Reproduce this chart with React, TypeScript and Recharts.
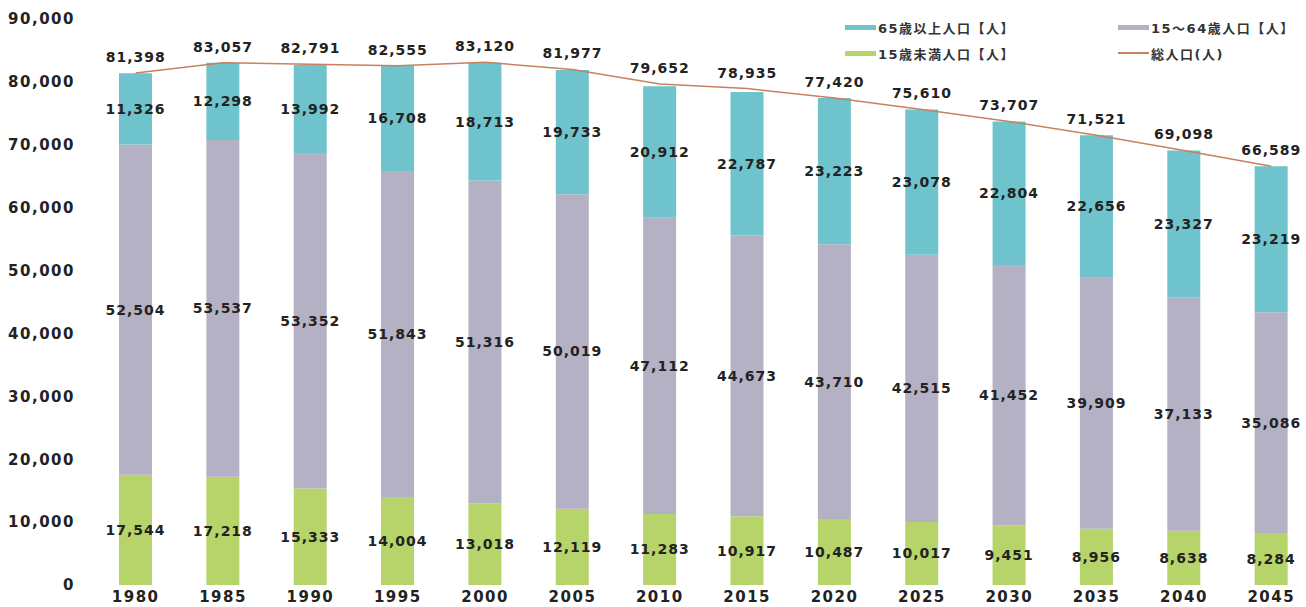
import { ComposedChart, Bar, Line, XAxis, YAxis, LabelList } from "recharts";

const years = ["1980", "1985", "1990", "1995", "2000", "2005", "2010", "2015", "2020", "2025", "2030", "2035", "2040", "2045"];
const under15 = [17544, 17218, 15333, 14004, 13018, 12119, 11283, 10917, 10487, 10017, 9451, 8956, 8638, 8284];
const working = [52504, 53537, 53352, 51843, 51316, 50019, 47112, 44673, 43710, 42515, 41452, 39909, 37133, 35086];
const elderly = [11326, 12298, 13992, 16708, 18713, 19733, 20912, 22787, 23223, 23078, 22804, 22656, 23327, 23219];
const total = [81398, 83057, 82791, 82555, 83120, 81977, 79652, 78935, 77420, 75610, 73707, 71521, 69098, 66589];
const yTicks = [0, 10000, 20000, 30000, 40000, 50000, 60000, 70000, 80000, 90000];

const data = years.map((year, i) => ({
    year,
    under15: under15[i],
    working: working[i],
    elderly: elderly[i],
    total: total[i],
}));

const GREEN = "#b6d46a";
const GRAY = "#b5b1c4";
const CYAN = "#6fc3cd";
const LINE = "#c8805f";

const fmt = (v: number) => v.toLocaleString("en-US");
const numFont = "'DejaVu Sans', 'Noto Sans CJK JP', sans-serif";
const labelStyle = { fontFamily: numFont, fontSize: 14, fontWeight: 700, fill: "#222", letterSpacing: 1 };
const axisTick = { fontFamily: numFont, fontSize: 15, fontWeight: 700, fill: "#222", letterSpacing: 1.5 };

// legend entries, positions in page pixels
const legendItems = [
    { text: "65歳以上人口【人】", color: CYAN, type: "bar", left: 845, top: 27 },
    { text: "15～64歳人口【人】", color: GRAY, type: "bar", left: 1118, top: 27 },
    { text: "15歳未満人口【人】", color: GREEN, type: "bar", left: 845, top: 53 },
    { text: "総人口(人)", color: LINE, type: "line", left: 1118, top: 53 },
];

const LegendBox = () => (
    <>
        {legendItems.map((it) => (
            <div
                key={it.text}
                style={{
                    position: "absolute",
                    left: it.left,
                    top: it.top - 9,
                    height: 18,
                    display: "flex",
                    alignItems: "center",
                    fontFamily: numFont,
                    fontSize: 13,
                    fontWeight: 700,
                    color: "#333",
                    letterSpacing: 1.5,
                    whiteSpace: "nowrap",
                }}
            >
                <span
                    style={{
                        display: "inline-block",
                        width: 31,
                        height: it.type === "bar" ? 5 : 1.5,
                        background: it.color,
                        marginRight: 2,
                    }}
                />
                {it.text}
            </div>
        ))}
    </>
);

export default function App() {
    return (
        <div style={{ position: "absolute", left: 0, top: 0, width: 1306, height: 607, overflow: "hidden", background: "#fff" }}>
            <ComposedChart width={1315} height={607} data={data} margin={{ top: 19, right: 0, bottom: 0, left: 0 }}>
                <XAxis
                    dataKey="year"
                    height={22}
                    axisLine={false}
                    tickLine={false}
                    tickSize={0}
                    tickMargin={6}
                    interval={0}
                    tick={axisTick}
                />
                <YAxis
                    width={92}
                    domain={[0, 90000]}
                    ticks={yTicks}
                    axisLine={false}
                    tickLine={false}
                    tickSize={0}
                    tickMargin={17}
                    tickFormatter={fmt}
                    tick={axisTick}
                />
                <Bar dataKey="under15" stackId="p" fill={GREEN} barSize={33} isAnimationActive={false}>
                    <LabelList dataKey="under15" position="center" formatter={fmt} style={labelStyle} />
                </Bar>
                <Bar dataKey="working" stackId="p" fill={GRAY} barSize={33} isAnimationActive={false}>
                    <LabelList dataKey="working" position="center" formatter={fmt} style={labelStyle} />
                </Bar>
                <Bar dataKey="elderly" stackId="p" fill={CYAN} barSize={33} isAnimationActive={false}>
                    <LabelList dataKey="elderly" position="center" formatter={fmt} style={labelStyle} />
                </Bar>
                <Line
                    dataKey="total"
                    type="linear"
                    stroke={LINE}
                    strokeWidth={1.5}
                    dot={false}
                    activeDot={false}
                    isAnimationActive={false}
                >
                    <LabelList dataKey="total" position="top" offset={11} formatter={fmt} style={labelStyle} />
                </Line>
            </ComposedChart>
            <LegendBox />
        </div>
    );
}
